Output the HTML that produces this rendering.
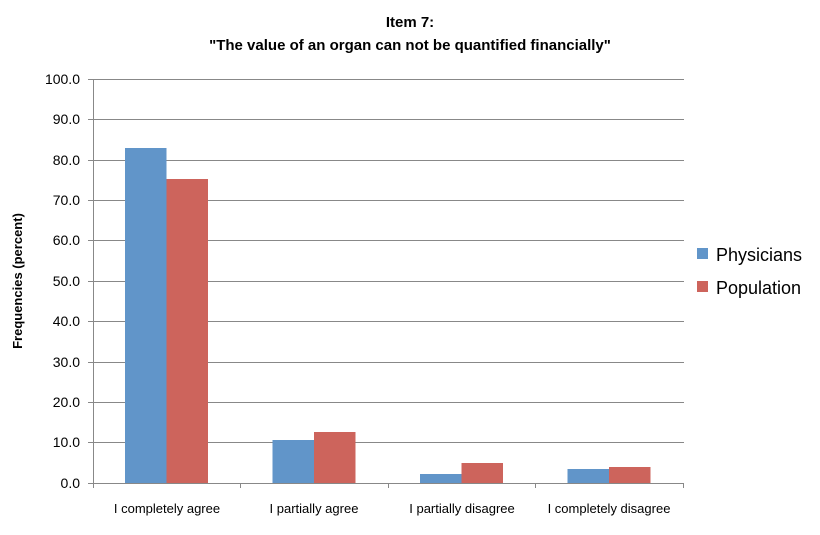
<!DOCTYPE html>
<html><head><style>body{margin:0;background:#fff}</style></head><body>
<svg width="820" height="530" xmlns="http://www.w3.org/2000/svg" font-family="Liberation Sans, sans-serif">
<rect width="820" height="530" fill="#fff"/>
<text x="410" y="27" text-anchor="middle" font-size="15" font-weight="bold" fill="#000">Item 7:</text>
<text x="410" y="50" text-anchor="middle" font-size="15" font-weight="bold" fill="#000">"The value of an organ can not be quantified financially"</text>
<g stroke="#888" stroke-width="1">
<line x1="88" y1="79.5" x2="684" y2="79.5"/><line x1="88" y1="119.5" x2="684" y2="119.5"/>
<line x1="88" y1="160.5" x2="684" y2="160.5"/><line x1="88" y1="200.5" x2="684" y2="200.5"/>
<line x1="88" y1="240.5" x2="684" y2="240.5"/><line x1="88" y1="281.5" x2="684" y2="281.5"/>
<line x1="88" y1="321.5" x2="684" y2="321.5"/><line x1="88" y1="362.5" x2="684" y2="362.5"/>
<line x1="88" y1="402.5" x2="684" y2="402.5"/><line x1="88" y1="442.5" x2="684" y2="442.5"/>
<line x1="88" y1="483.5" x2="684" y2="483.5"/>
<line x1="93.5" y1="79" x2="93.5" y2="488"/>
<line x1="240.5" y1="483" x2="240.5" y2="488"/><line x1="388.5" y1="483" x2="388.5" y2="488"/>
<line x1="535.5" y1="483" x2="535.5" y2="488"/><line x1="683.5" y1="483" x2="683.5" y2="488"/>
</g>
<g font-size="14" fill="#000" text-anchor="end">
<text x="80" y="84">100.0</text><text x="80" y="124">90.0</text><text x="80" y="165">80.0</text>
<text x="80" y="205">70.0</text><text x="80" y="245">60.0</text><text x="80" y="286">50.0</text>
<text x="80" y="326">40.0</text><text x="80" y="367">30.0</text><text x="80" y="407">20.0</text>
<text x="80" y="447">10.0</text><text x="80" y="488">0.0</text>
</g>
<text transform="translate(22,281) rotate(-90)" text-anchor="middle" font-size="13" font-weight="bold">Frequencies (percent)</text>
<g fill="#6195c9">
<rect x="125" y="148" width="41.5" height="335"/>
<rect x="272.5" y="440" width="41.5" height="43"/>
<rect x="420" y="474" width="41.5" height="9"/>
<rect x="567.5" y="469" width="41.5" height="14"/>
</g>
<g fill="#cd645c">
<rect x="166.5" y="179" width="41.5" height="304"/>
<rect x="314" y="432" width="41.5" height="51"/>
<rect x="461.5" y="463" width="41.5" height="20"/>
<rect x="609" y="467" width="41.5" height="16"/>
</g>
<g font-size="13" text-anchor="middle">
<text x="167" y="513">I completely agree</text><text x="314" y="513">I partially agree</text>
<text x="462" y="513">I partially disagree</text><text x="609" y="513">I completely disagree</text>
</g>
<rect x="697" y="248" width="11" height="11" fill="#6195c9"/>
<text x="716" y="261" font-size="18">Physicians</text>
<rect x="697" y="281" width="11" height="11" fill="#cd645c"/>
<text x="716" y="294" font-size="18">Population</text>
</svg>
</body></html>
